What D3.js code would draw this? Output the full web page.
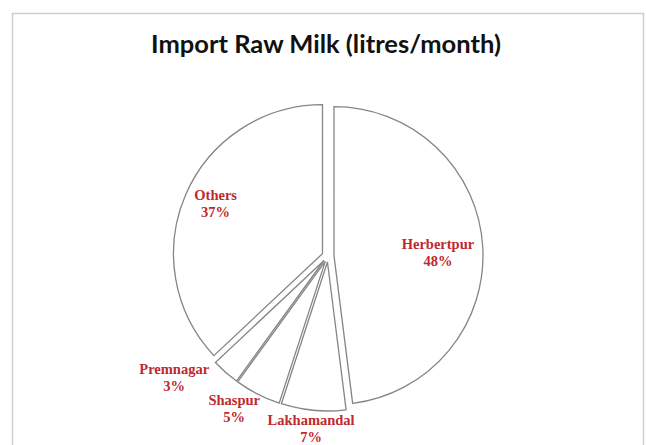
<!DOCTYPE html>
<html>
<head>
<meta charset="utf-8">
<script src="https://cdn.jsdelivr.net/npm/d3@7"></script>
<style>
  body { margin: 0; background: #fff; }
  svg { display: block; }
</style>
</head>
<body>
<div id="chart"></div>
<script>
// data
const categories = ["Herbertpur", "Lakhamandal", "Shaspur", "Premnagar", "Others"];
const shares = [48, 7, 5, 3, 37];
const chartTitle = "Import Raw Milk (litres/month)";

// where each label sits (radius from centre, angle in degrees clockwise from 12 o'clock)
const labelPlace = {
    Herbertpur:  {r: 110, a: 88},
    Lakhamandal: {r: 173, a: 185.6},
    Shaspur:     {r: 179, a: 211.6},
    Premnagar:   {r: 196, a: 231.7},
    Others:      {r: 124, a: 295}
};

const width = 646, height = 445;
const cx = 328, cy = 256, radius = 149, explode = 6;

let svg = d3.select("#chart").append("svg")
    .attr("width", width)
    .attr("height", height);

// chart area frame
svg.append("rect")
    .attr("x", 12.5)
    .attr("y", 13.5)
    .attr("width", 631)
    .attr("height", 450)
    .attr("fill", "none")
    .attr("stroke", "#cfcfcf")
    .attr("stroke-width", 1.5);

svg.append("text")
    .attr("x", 326)
    .attr("y", 53)
    .attr("text-anchor", "middle")
    .attr("font-family", "Lato, 'Open Sans', sans-serif")
    .attr("font-weight", 700)
    .attr("font-size", 25.5)
    .attr("fill", "#111")
    .text(chartTitle);

let pie = d3.pie().sort(null).value(d => d.value);
let arcs = pie(categories.map((c, i) => ({name: c, value: shares[i]})));

let arc = d3.arc().innerRadius(0).outerRadius(radius);

let g = svg.append("g")
    .attr("transform", "translate(" + cx + "," + cy + ")");

// exploded slices: each one pushed out along its own bisector
g.selectAll("path")
    .data(arcs)
    .enter()
    .append("path")
    .attr("d", arc)
    .attr("transform", function(d) {
        let mid = (d.startAngle + d.endAngle) / 2;
        return "translate(" + (Math.sin(mid) * explode) + "," + (-Math.cos(mid) * explode) + ")";
    })
    .attr("fill", "#fff")
    .attr("stroke", "#858585")
    .attr("stroke-width", 1.3)
    .attr("stroke-linejoin", "miter");

let labels = g.selectAll("text")
    .data(arcs)
    .enter()
    .append("text")
    .attr("transform", function(d) {
        let p = labelPlace[d.data.name];
        let a = p.a * Math.PI / 180;
        return "translate(" + (Math.sin(a) * p.r) + "," + (-Math.cos(a) * p.r) + ")";
    })
    .attr("text-anchor", "middle")
    .attr("font-family", "'Liberation Serif', 'Times New Roman', serif")
    .attr("font-weight", 700)
    .attr("font-size", 14.5)
    .attr("fill", "#c0282e");

labels.append("tspan")
    .attr("x", 0)
    .attr("y", -3.5)
    .text(d => d.data.name);

labels.append("tspan")
    .attr("x", 0)
    .attr("y", 13.5)
    .text(d => d.data.value + "%");
</script>
</body>
</html>
